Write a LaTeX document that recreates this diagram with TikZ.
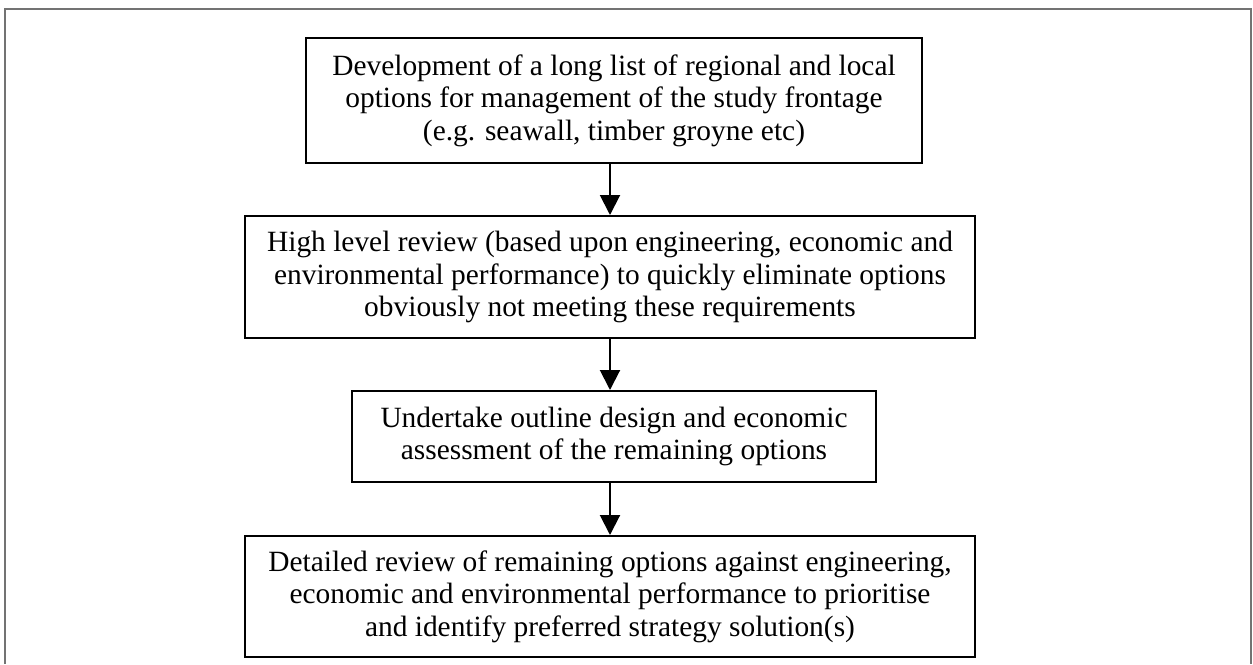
\documentclass[tikz,border=0pt]{standalone}
\usepackage{fontspec}
\setmainfont{Liberation Serif}
\usetikzlibrary{arrows.meta}
\begin{document}
\begin{tikzpicture}[x=0.5pt,y=-0.5pt,
  box/.style={draw=black, line width=1pt, rectangle, inner sep=0pt, align=center,
    font=\fontsize{14.7}{16.2}\selectfont},
  arr/.style={draw=black, line width=1pt, -{Triangle[length=10pt,width=10pt]}},
  frame/.style={draw=black!55, line width=0.6pt}]
\useasboundingbox (0,0) rectangle (1253,664);
\draw[frame] (5,664) -- (5,9) -- (1251,9) -- (1251,664);
\node[box, minimum width=308pt, minimum height=62.5pt] (b1) at (614,100.5)
  {Development of a long list of regional and local\\options for management of the study frontage\\(e.g. seawall, timber groyne etc)};
\node[box, minimum width=365pt, minimum height=61pt] (b2) at (610,277)
  {High level review (based upon engineering, economic and\\environmental performance) to quickly eliminate options\\obviously not meeting these requirements};
\node[box, minimum width=262pt, minimum height=45.5pt] (b3) at (614,436.5)
  {Undertake outline design and economic\\assessment of the remaining options};
\node[box, minimum width=365pt, minimum height=60.5pt] (b4) at (610,596.5)
  {Detailed review of remaining options against engineering,\\economic and environmental performance to prioritise\\and identify preferred strategy solution(s)};
\draw[arr] (b2.north |- b1.south) -- (b2.north);
\draw[arr] (b2.south) -- (b2.south |- b3.north);
\draw[arr] (b4.north |- b3.south) -- (b4.north);
\end{tikzpicture}
\end{document}
